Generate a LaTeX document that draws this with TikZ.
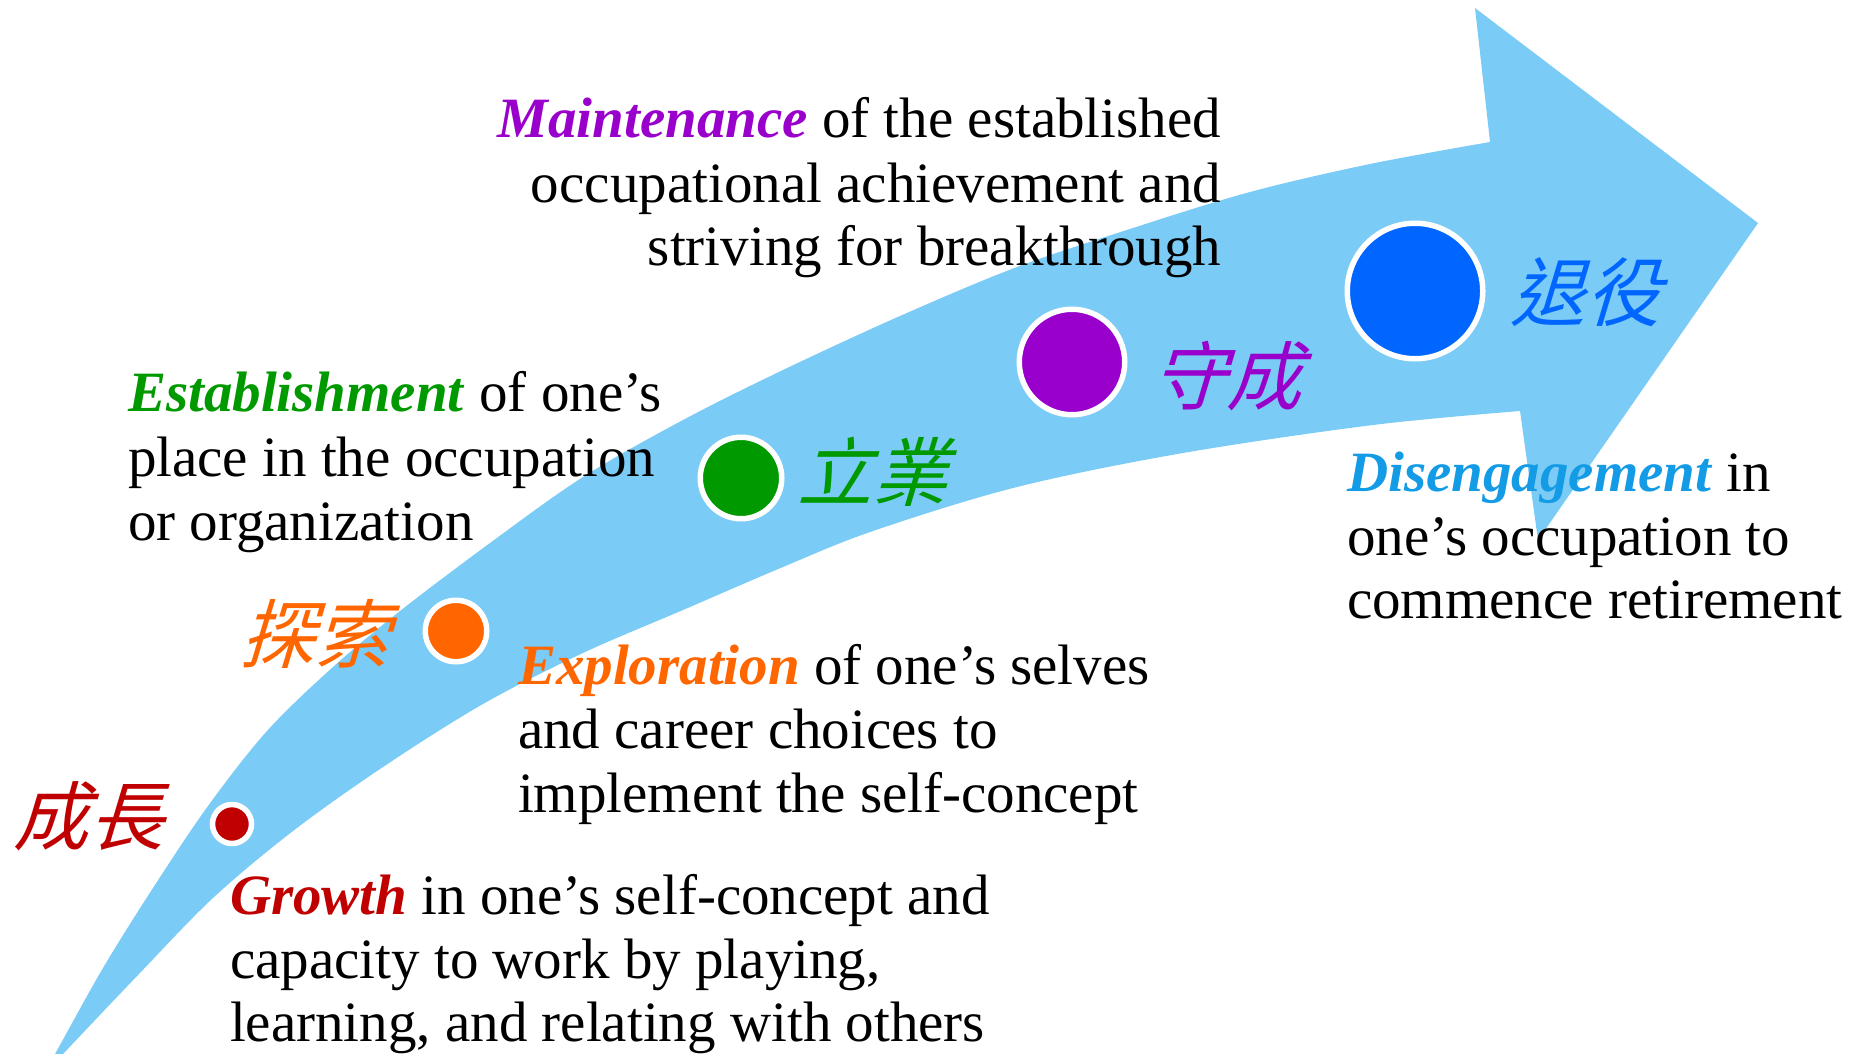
\documentclass[tikz,border=0pt]{standalone}
\usepackage{fontspec}
\setmainfont{Liberation Serif}
\newfontfamily\cjkfont[FakeSlant=0.3]{Noto Sans CJK TC}
\definecolor{arrowblue}{RGB}{122,203,246}
\definecolor{growred}{RGB}{192,0,0}
\definecolor{exporange}{RGB}{255,102,0}
\definecolor{estgreen}{RGB}{0,153,0}
\definecolor{mainpurple}{RGB}{153,0,204}
\definecolor{disblue}{RGB}{20,155,230}
\definecolor{retblue}{RGB}{0,102,255}
\newcommand\stagekw[2]{\textcolor{#1}{\textbf{\textit{#2}}}}
\tikzset{
  every node/.style={inner sep=0pt, outer sep=0pt},
  bodytext/.style={font=\fontsize{57}{64}\selectfont, text=black},
  stagedot/.style={circle, draw=white, line width=5.5pt, inner sep=0pt},
  cjklabel/.style={font=\cjkfont\fontsize{75}{80}\selectfont},
}
\begin{document}
\begin{tikzpicture}[x=1pt,y=-1pt]
\useasboundingbox (0,0) rectangle (1862,1054);
\clip (0,0) rectangle (1862,1054);

% curved arrow
\fill[arrowblue]
  plot[smooth, tension=0.55] coordinates {(42,1076) (55,1054) (103,968) (153,888) (208,806) (267,731) (333,667) (400,611) (490,543) (583,477) (683,420) (783,370) (900,316) (1017,267) (1133,228) (1250,192) (1370,164) (1490,142)}
  -- (1475,8) -- (1758,223) -- (1538,540) -- (1520,411)
  -- plot[smooth, tension=0.55] coordinates {(1520,411) (1373,425) (1183,453) (1017,487) (873,531) (783,567) (683,610) (583,653) (483,704) (383,767) (293,831) (213,898) (138,975) (63,1054) (42,1076)}
  -- cycle;

% stage dots
\node[stagedot, fill=growred, minimum size=39pt] (dot1) at (232,824) {};
\node[stagedot, fill=exporange, minimum size=61.5pt] (dot2) at (456,631) {};
\node[stagedot, fill=estgreen, minimum size=81.5pt] (dot3) at (741,478) {};
\node[stagedot, fill=mainpurple, minimum size=105.5pt] (dot4) at (1072,362) {};
\node[stagedot, fill=retblue, minimum size=135.5pt] (dot5) at (1415,291) {};

% chinese labels
\node[cjklabel, text=growred] (zh1) at (88,816) {成長};
\node[cjklabel, text=exporange] (zh2) at (314,634) {探索};
\node[cjklabel, text=estgreen] (zh3) at (872,472) {立業};
\node[cjklabel, text=mainpurple] (zh4) at (1226,376) {守成};
\node[cjklabel, text=retblue] (zh5) at (1585,292) {退役};

% Maintenance
\node[bodytext, anchor=base east] (mai1) at (1221,138) {\stagekw{mainpurple}{Maintenance} of the established};
\node[bodytext, anchor=base east] (mai2) at (1221,202) {occupational achievement and};
\node[bodytext, anchor=base east] (mai3) at (1221,265) {striving for breakthrough};

% Establishment
\node[bodytext, anchor=base west] (est1) at (128,411) {\stagekw{estgreen}{Establishment} of one’s};
\node[bodytext, anchor=base west] (est2) at (128,476) {place in the occupation};
\node[bodytext, anchor=base west] (est3) at (128,540) {or organization};

% Exploration
\node[bodytext, anchor=base west] (exp1) at (518,684) {\stagekw{exporange}{Exploration} of one’s selves};
\node[bodytext, anchor=base west] (exp2) at (518,748) {and career choices to};
\node[bodytext, anchor=base west] (exp3) at (518,812) {implement the self-concept};

% Growth
\node[bodytext, anchor=base west] (gro1) at (230,914) {\stagekw{growred}{Growth} in one’s self-concept and};
\node[bodytext, anchor=base west] (gro2) at (230,978) {capacity to work by playing,};
\node[bodytext, anchor=base west] (gro3) at (230,1041) {learning, and relating with others};

% Disengagement
\node[bodytext, anchor=base west] (dis1) at (1347,491) {\stagekw{disblue}{Disengagement} in};
\node[bodytext, anchor=base west] (dis2) at (1347,555) {one’s occupation to};
\node[bodytext, anchor=base west] (dis3) at (1347,618) {commence retirement};
\end{tikzpicture}
\end{document}
